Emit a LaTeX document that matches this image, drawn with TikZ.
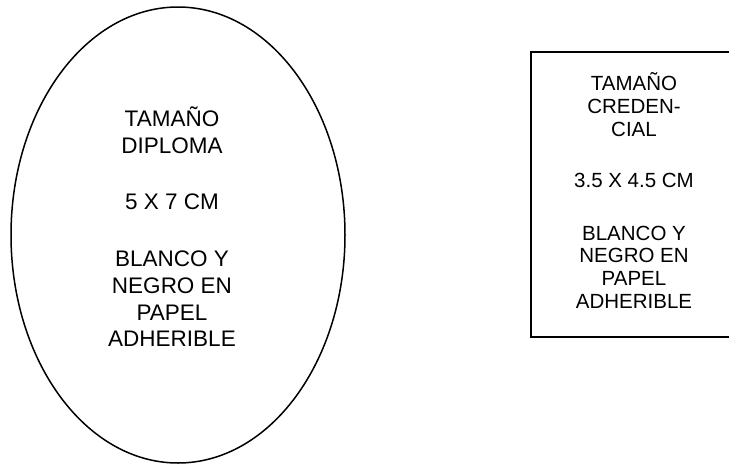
\documentclass[tikz,border=0pt]{standalone}
\usepackage{fontspec}
\setmainfont{Liberation Sans}
\begin{document}
\begin{tikzpicture}[x=1pt,y=-1pt,
  etext/.style={anchor=base,inner sep=0pt,font=\fontsize{22.5}{27}\selectfont},
  rtext/.style={anchor=base,inner sep=0pt,font=\fontsize{20.5}{22.7}\selectfont},
  outline/.style={draw=black,line width=1.5pt}]
\useasboundingbox (0,0) rectangle (729,464);
% ellipse
\draw[outline] (178,235) ellipse [x radius=167, y radius=228];
\node[etext] (e1) at (172,126) {TAMAÑO};
\node[etext] (e2) at (172,153) {DIPLOMA};
\node[etext] (e3) at (172,209) {5 X 7 CM};
\node[etext] (e4) at (172,266) {BLANCO Y};
\node[etext] (e5) at (172,293) {NEGRO EN};
\node[etext] (e6) at (172,320) {PAPEL};
\node[etext] (e7) at (172,346) {ADHERIBLE};
% rectangle (right side clipped)
\begin{scope}
\clip (0,0) rectangle (729,464);
\draw[draw=black,line width=1.8pt] (531,52) rectangle (740,337);
\end{scope}
\node[rtext] (r1) at (634,90) {TAMAÑO};
\node[rtext] (r2) at (634,113.3) {CREDEN-};
\node[rtext] (r3) at (634,136.5) {CIAL};
\node[rtext] (r4) at (634,187.5) {3.5 X 4.5 CM};
\node[rtext] (r5) at (634,240) {BLANCO Y};
\node[rtext] (r6) at (634,262.5) {NEGRO EN};
\node[rtext] (r7) at (634,285) {PAPEL};
\node[rtext] (r8) at (634,308) {ADHERIBLE};
\end{tikzpicture}
\end{document}
